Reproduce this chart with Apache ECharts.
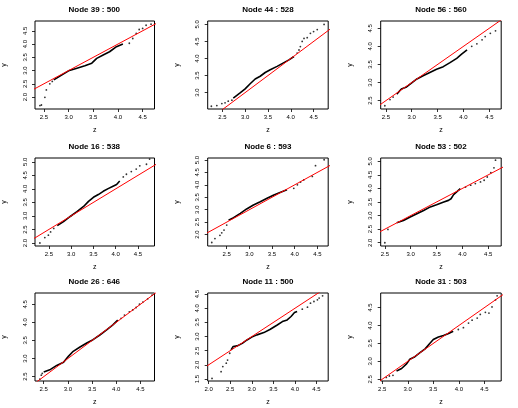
<!DOCTYPE html>
<html>
<head>
<meta charset="utf-8">
<script src="https://cdn.jsdelivr.net/npm/echarts@6/dist/echarts.min.js"></script>
<style>
html, body { margin: 0; padding: 0; background: #fff; }
#chart { width: 518px; height: 408px; }
</style>
</head>
<body>
<div id="chart"></div>
<script>
// panel titles, row by row
var panelTitles = ['Node 39 : 500', 'Node 44 : 528', 'Node 56 : 560',
                   'Node 16 : 538', 'Node 6 : 593', 'Node 53 : 502',
                   'Node 26 : 646', 'Node 11 : 500', 'Node 31 : 503'];

// axis extents
var xRanges = [[2.32, 4.74], [2.18, 4.82], [2.40, 4.73],
               [2.19, 4.87], [2.08, 4.74], [2.42, 4.75],
               [2.32, 4.79], [1.98, 4.77], [2.47, 4.83]];
var yRanges = [[1.55, 4.87], [2.52, 5.10], [2.27, 4.70],
               [1.89, 5.14], [1.54, 5.08], [1.88, 5.12],
               [2.38, 4.81], [1.43, 4.54], [2.45, 4.91]];

// tick labels
var xTicks = [[2.5, 3.0, 3.5, 4.0, 4.5], [2.5, 3.0, 3.5, 4.0, 4.5], [2.5, 3.0, 3.5, 4.0, 4.5],
              [2.5, 3.0, 3.5, 4.0, 4.5], [2.5, 3.0, 3.5, 4.0, 4.5], [2.5, 3.0, 3.5, 4.0, 4.5],
              [2.5, 3.0, 3.5, 4.0, 4.5], [2.0, 2.5, 3.0, 3.5, 4.0, 4.5], [2.5, 3.0, 3.5, 4.0, 4.5]];
var yTicks = [[2.0, 2.5, 3.0, 3.5, 4.0, 4.5], [3.0, 3.5, 4.0, 4.5, 5.0], [2.5, 3.0, 3.5, 4.0, 4.5],
              [2.0, 2.5, 3.0, 3.5, 4.0, 4.5, 5.0], [2.0, 2.5, 3.0, 3.5, 4.0, 4.5, 5.0], [2.0, 2.5, 3.0, 3.5, 4.0, 4.5, 5.0],
              [2.5, 3.0, 3.5, 4.0, 4.5], [1.5, 2.0, 2.5, 3.0, 3.5, 4.0, 4.5], [2.5, 3.0, 3.5, 4.0, 4.5]];

// reference line y = z
var identityLine = [[1, 1], [6, 6]];

// dense middle part of each qq curve
var node39Curve = [[2.70, 2.65], [2.85, 2.82], [3.00, 2.99], [3.17, 3.09], [3.33, 3.18], [3.47, 3.28],
                   [3.57, 3.46], [3.70, 3.59], [3.83, 3.71], [3.97, 3.90], [4.10, 4.00]];
var node44Curve = [[2.74, 2.84], [2.89, 2.99], [3.00, 3.11], [3.11, 3.26], [3.22, 3.40], [3.33, 3.48],
                   [3.44, 3.59], [3.55, 3.67], [3.70, 3.77], [3.85, 3.88], [3.96, 3.96], [4.07, 4.06]];
var node56Curve = [[2.71, 2.68], [2.80, 2.82], [2.90, 2.88], [3.00, 2.99], [3.10, 3.10], [3.22, 3.19],
                   [3.35, 3.28], [3.48, 3.37], [3.61, 3.44], [3.74, 3.55], [3.87, 3.67], [3.97, 3.79], [4.07, 3.90]];
var node16Curve = [[2.69, 2.64], [2.83, 2.79], [2.98, 2.98], [3.13, 3.16], [3.28, 3.35], [3.39, 3.54],
                   [3.50, 3.69], [3.61, 3.79], [3.72, 3.91], [3.83, 4.01], [3.94, 4.10], [4.02, 4.16], [4.09, 4.29]];
var node6Curve = [[2.54, 2.58], [2.65, 2.68], [2.80, 2.85], [2.94, 3.03], [3.09, 3.19], [3.24, 3.32],
                  [3.39, 3.46], [3.54, 3.59], [3.69, 3.70], [3.83, 3.80]];
var node53Curve = [[2.73, 2.74], [2.86, 2.82], [2.99, 2.95], [3.12, 3.07], [3.25, 3.19], [3.38, 3.32],
                   [3.50, 3.40], [3.64, 3.50], [3.73, 3.56], [3.78, 3.62], [3.83, 3.77], [3.90, 3.89], [3.96, 3.99]];
var node26Curve = [[2.50, 2.63], [2.64, 2.70], [2.77, 2.81], [2.91, 2.90], [3.01, 3.06], [3.11, 3.20],
                   [3.25, 3.32], [3.39, 3.43], [3.52, 3.52], [3.66, 3.65], [3.80, 3.79], [3.93, 3.93], [4.03, 4.06]];
var node11Curve = [[2.52, 2.53], [2.57, 2.65], [2.66, 2.67], [2.78, 2.76], [2.89, 2.88], [3.00, 2.98],
                   [3.12, 3.06], [3.28, 3.14], [3.43, 3.26], [3.59, 3.41], [3.71, 3.53], [3.82, 3.59],
                   [3.91, 3.71], [3.99, 3.85], [4.05, 3.89]];
var node31Curve = [[2.78, 2.73], [2.88, 2.80], [2.97, 2.92], [3.04, 3.06], [3.14, 3.13], [3.24, 3.24],
                   [3.34, 3.35], [3.43, 3.50], [3.50, 3.61], [3.60, 3.68], [3.70, 3.72], [3.80, 3.78], [3.89, 3.84]];

// sparse tail points
var node39Pts = [[2.42, 1.68], [2.45, 1.70], [2.52, 1.99], [2.55, 2.27], [2.62, 2.50], [2.67, 2.59],
                 [4.23, 4.03], [4.30, 4.21], [4.37, 4.40], [4.43, 4.55], [4.50, 4.59], [4.57, 4.71], [4.67, 4.75]];
var node44Pts = [[2.26, 2.60], [2.38, 2.62], [2.49, 2.68], [2.56, 2.70], [2.63, 2.75], [2.71, 2.78],
                 [4.14, 4.16], [4.18, 4.25], [4.21, 4.35], [4.25, 4.50], [4.29, 4.59], [4.36, 4.61],
                 [4.43, 4.74], [4.50, 4.79], [4.58, 4.85], [4.73, 5.00]];
var node56Pts = [[2.48, 2.36], [2.58, 2.53], [2.64, 2.60], [4.16, 4.00], [4.26, 4.07], [4.36, 4.18],
                 [4.42, 4.27], [4.52, 4.36], [4.62, 4.43]];
var node16Pts = [[2.30, 2.00], [2.41, 2.20], [2.49, 2.29], [2.54, 2.41], [2.61, 2.54],
                 [4.17, 4.44], [4.24, 4.54], [4.35, 4.64], [4.46, 4.73], [4.54, 4.85], [4.69, 4.91], [4.76, 5.10]];
var node6Pts = [[2.17, 1.68], [2.24, 1.84], [2.35, 1.97], [2.39, 2.07], [2.44, 2.18], [2.50, 2.38],
                [3.98, 3.86], [4.06, 4.00], [4.13, 4.11], [4.20, 4.20], [4.39, 4.34], [4.46, 4.77], [4.65, 5.01]];
var node53Pts = [[2.50, 2.00], [2.56, 2.49], [4.06, 4.05], [4.16, 4.12], [4.25, 4.18], [4.35, 4.24],
                 [4.42, 4.30], [4.48, 4.42], [4.55, 4.58], [4.61, 4.76], [4.64, 5.04]];
var node26Pts = [[2.42, 2.43], [2.45, 2.54], [2.47, 2.59], [4.10, 4.11], [4.17, 4.20], [4.27, 4.29],
                 [4.34, 4.34], [4.41, 4.41], [4.48, 4.50], [4.55, 4.56], [4.65, 4.65], [4.74, 4.75]];
var node11Pts = [[2.08, 1.52], [2.29, 1.76], [2.33, 1.94], [2.41, 2.06], [2.44, 2.17], [2.49, 2.41],
                 [4.17, 3.97], [4.29, 4.04], [4.36, 4.18], [4.44, 4.24], [4.52, 4.30], [4.56, 4.36], [4.64, 4.44]];
var node31Pts = [[2.58, 2.55], [2.64, 2.59], [2.71, 2.61], [3.99, 3.89], [4.09, 3.94], [4.19, 4.07],
                 [4.26, 4.15], [4.36, 4.21], [4.42, 4.31], [4.52, 4.37], [4.59, 4.35], [4.65, 4.52],
                 [4.72, 4.72], [4.75, 4.83]];

var curves = [node39Curve, node44Curve, node56Curve, node16Curve, node6Curve, node53Curve,
              node26Curve, node11Curve, node31Curve];
var tails = [node39Pts, node44Pts, node56Pts, node16Pts, node6Pts, node53Pts,
             node26Pts, node11Pts, node31Pts];

var colLeft = [34, 207.7, 380.7];
var rowTop = [21, 158, 293];
var boxW = 120.5, boxH = 88;

var grids = [], xAxes = [], yAxes = [], titles = [], series = [];

function fmt(v) {
    return Number(v).toFixed(1);
}

for (var i = 0; i < 9; i++) {
    var r = Math.floor(i / 3), c = i % 3;
    grids.push({
        left: colLeft[c], top: rowTop[r], width: boxW, height: boxH,
        show: true, borderColor: '#000', borderWidth: 1, backgroundColor: 'transparent'
    });
    titles.push({
        text: panelTitles[i],
        left: colLeft[c] + boxW / 2, top: rowTop[r] - 15, textAlign: 'center', padding: 0,
        textStyle: { fontFamily: 'Liberation Sans', fontWeight: 'bold', fontSize: 8, color: '#000' }
    });
    xAxes.push({
        gridIndex: i, type: 'value', min: xRanges[i][0], max: xRanges[i][1],
        name: 'z', nameLocation: 'middle', nameGap: 18,
        nameTextStyle: { fontFamily: 'Liberation Sans', fontSize: 7, color: '#000' },
        axisLine: { show: false },
        axisTick: { show: true, length: 3, customValues: xTicks[i], lineStyle: { color: '#000', width: 0.8 } },
        axisLabel: { customValues: xTicks[i], formatter: fmt, fontSize: 6, margin: 5, color: '#000', fontFamily: 'Liberation Sans' },
        splitLine: { show: false }
    });
    yAxes.push({
        gridIndex: i, type: 'value', min: yRanges[i][0], max: yRanges[i][1],
        name: 'y', nameLocation: 'middle', nameGap: 27, nameRotate: 90,
        nameTextStyle: { fontFamily: 'Liberation Sans', fontSize: 7, color: '#000' },
        axisLine: { show: false },
        axisTick: { show: true, length: 3, customValues: yTicks[i], lineStyle: { color: '#000', width: 0.8 } },
        axisLabel: { customValues: yTicks[i], formatter: fmt, rotate: 90, fontSize: 6, margin: 7, color: '#000', fontFamily: 'Liberation Sans' },
        splitLine: { show: false }
    });
    series.push({
        type: 'line', xAxisIndex: i, yAxisIndex: i, data: identityLine, symbol: 'none', clip: true,
        lineStyle: { color: '#ff0000', width: 1 }, silent: true, z: 3
    });
    series.push({
        type: 'line', xAxisIndex: i, yAxisIndex: i, data: curves[i], symbol: 'none', clip: true,
        lineStyle: { color: '#000', width: 1.6 }, silent: true, z: 2
    });
    series.push({
        type: 'scatter', xAxisIndex: i, yAxisIndex: i, data: tails[i], symbolSize: 1.8,
        itemStyle: { color: '#000' }, silent: true, z: 2
    });
}

var chart = echarts.init(document.getElementById('chart'));
chart.setOption({
    animation: false,
    backgroundColor: '#fff',
    title: titles,
    grid: grids,
    xAxis: xAxes,
    yAxis: yAxes,
    series: series
});
</script>
</body>
</html>
